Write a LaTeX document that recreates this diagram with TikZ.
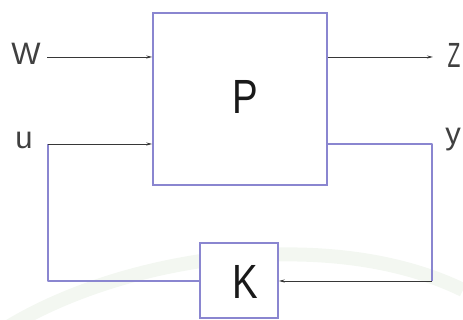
\documentclass[tikz,border=0pt]{standalone}
\usepackage{fontspec}
\setmainfont{Liberation Sans}
\usetikzlibrary{arrows.meta}
\definecolor{boxc}{RGB}{138,134,208}
\definecolor{sigc}{RGB}{55,55,55}
\definecolor{markc}{RGB}{243,247,241}
\begin{document}
\begin{tikzpicture}[x=1pt,y=-1pt,
  blockbox/.style={draw=boxc, line width=1.5pt, fill=white},
  loopline/.style={draw=boxc, line width=1.5pt, line join=round},
  sig/.style={draw=sigc, line width=0.9pt, -{Stealth[length=6pt,width=3pt]}},
  lbl/.style={inner sep=0pt, text=black!75, font=\fontsize{31}{31}\selectfont},
  big/.style={inner sep=0pt, text=black!90, font=\fontsize{48}{48}\selectfont, xscale=0.8}]
\useasboundingbox (0,0) rectangle (463,320);

% faint background arc
\draw[markc, line width=14pt] (0,332) .. controls (120,255) and (330,225) .. (463,290);

% blocks
\node[blockbox, minimum width=174pt, minimum height=172pt] (P) at (240,99) {};
\node[blockbox, minimum width=78pt, minimum height=75pt] (K) at (239,280.5) {};
\node[big] (Plab) at (245,97) {P};
\node[big] (Klab) at (245,281.5) {K};

% labels
\node[lbl] (wlab) at (26,54) {W};
\node[lbl] (ulab) at (24,140) {u};
\node[lbl, xscale=0.6, font=\fontsize{35}{35}\selectfont] (zlab) at (454,55.5) {Z};
\node[lbl] (ylab) at (453,140) {y};

% signal end points
\coordinate (w0) at (47,57);
\coordinate (z1) at (433,57);
\coordinate (yr) at (432,144);
\coordinate (yb) at (432,281);
\coordinate (ul) at (48,281);
\coordinate (ut) at (48,144);

% exogenous input and performance output
\draw[sig] (w0) -- (P.west |- w0);
\draw[sig] (P.east |- w0) -- (z1);

% feedback loop through K
\draw[loopline] (P.east |- yr) -- (yr) -- (yb);
\draw[sig] (yb) -- (K.east |- yb);
\draw[loopline] (K.west |- yb) -- (ul) -- (ut);
\draw[sig] (ut) -- (P.west |- ut);
\end{tikzpicture}
\end{document}
